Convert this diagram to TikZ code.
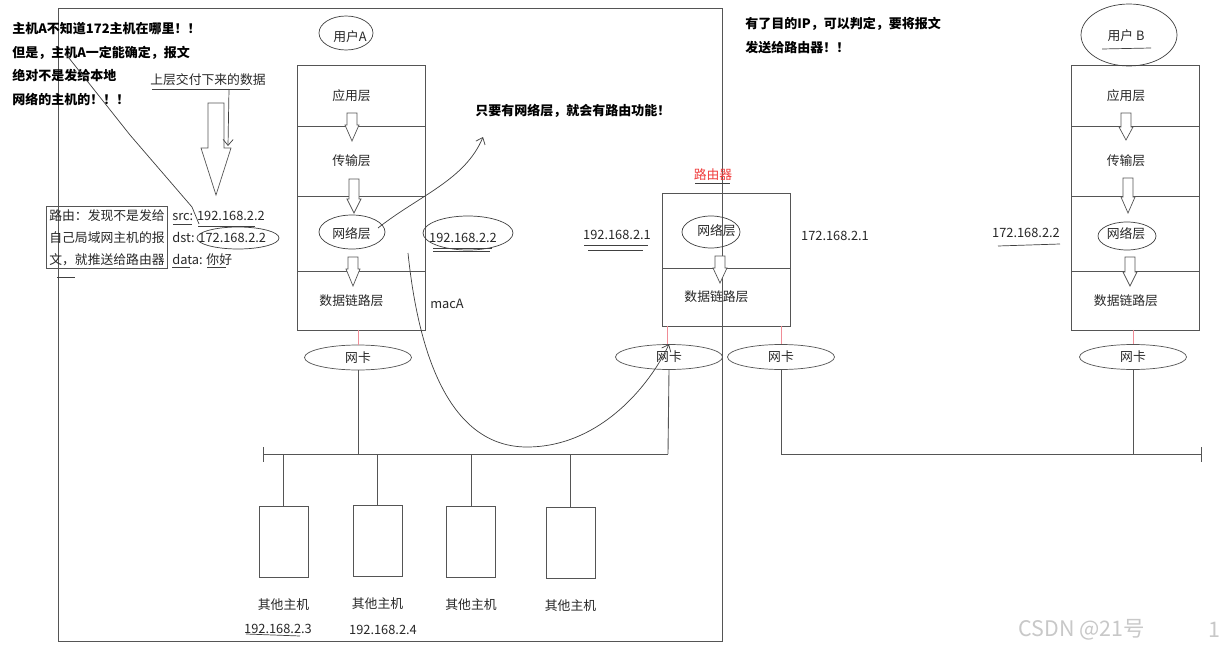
\documentclass[tikz,border=0pt]{standalone}
\usepackage{fontspec}
\setmainfont{Noto Sans CJK SC}
\usetikzlibrary{arrows.meta,positioning,shapes.geometric}
\definecolor{corLinha}{RGB}{85,85,85}
\definecolor{corTexto}{RGB}{40,40,40}
\definecolor{corVermelho}{RGB}{240,60,60}
\definecolor{corRosa}{RGB}{240,140,150}
\definecolor{corMarca}{RGB}{200,200,200}

% seta oca: x, topo, pescoco, ponta, meia largura haste, meia largura cabeca
\newcommand{\setaoca}[6]{%
  \draw[corLinha, fill=white] ({#1-#5},#2) -- ({#1+#5},#2) -- ({#1+#5},#3) -- ({#1+#6},#3)
    -- (#1,#4) -- ({#1-#6},#3) -- ({#1-#5},#3) -- cycle;}

\begin{document}
\begin{tikzpicture}[x=0.02cm, y=-0.02cm, node distance=0pt,
  every node/.style={font=\fontsize{7.3}{9}\selectfont, text=corTexto},
  camada/.style={rectangle, draw=corLinha, minimum width=2.56cm, inner sep=0pt, outer sep=0pt},
  rotulo/.style={label={[xshift=-0.19cm]center:#1}},
  placa/.style={ellipse, draw=corLinha, minimum width=2.14cm, minimum height=0.5cm, inner sep=0pt},
  maquina/.style={rectangle, draw=corLinha, minimum width=0.98cm, minimum height=1.42cm, inner sep=0pt},
  aviso/.style={font=\fontsize{7.4}{13.4}\selectfont\bfseries, text=black, align=left, inner sep=0pt, anchor=north west},
  fio/.style={draw=corLinha, line width=0.5pt},
  fioRosa/.style={draw=corRosa, line width=0.5pt},
  traco/.style={draw=black!75, line width=0.4pt},
  seta/.style={traco, -{Straight Barb[length=1.2mm, width=2mm]}}
]
  \useasboundingbox (0,0) rectangle (1225,649);
  \fill[white] (0,0) rectangle (1225,649);
  \draw[fio] (58,8) rectangle (722,641);

  % pilha do usuario A
  \node (userA) at (350,37) {用户A};
  \node[camada, minimum height=1.22cm, rotulo=应用层] (aApp) at (361,95.5) {};
  \node[camada, minimum height=1.40cm, below=of aApp, rotulo=传输层] (aTrans) {};
  \node[camada, minimum height=1.50cm, below=of aTrans, rotulo=网络层] (aRede) {};
  \node[camada, minimum height=1.18cm, below=of aRede, rotulo=数据链路层] (aEnlace) {};
  \setaoca{352}{113}{125}{141}{5}{7}
  \setaoca{354}{179}{199}{213}{5}{7}
  \setaoca{353}{257}{269}{286}{5}{7}
  \node (ipA) at (463,238) {192.168.2.2};
  \node (macA) at (447,304) {macA};

  % roteador
  \node[text=corVermelho] (roteador) at (713,175) {路由器};
  \node[camada, minimum height=1.50cm, rotulo=网络层] (rRede) at (726,230.5) {};
  \node[camada, minimum height=1.16cm, below=of rRede, rotulo=数据链路层] (rEnlace) {};
  \setaoca{720}{256}{268}{283}{5}{7}
  \node (ipR1) at (617,235) {192.168.2.1};
  \node (ipR2) at (835,236) {172.168.2.1};

  % pilha do usuario B
  \node (userB) at (1126,36) {用户 B};
  \node[camada, minimum height=1.22cm, rotulo=应用层] (bApp) at (1135.5,95.5) {};
  \node[camada, minimum height=1.40cm, below=of bApp, rotulo=传输层] (bTrans) {};
  \node[camada, minimum height=1.50cm, below=of bTrans, rotulo=网络层] (bRede) {};
  \node[camada, minimum height=1.18cm, below=of bRede, rotulo=数据链路层] (bEnlace) {};
  \setaoca{1126}{113}{127}{140}{5}{7}
  \setaoca{1128}{178}{197}{213}{5}{7}
  \setaoca{1130}{257}{272}{286}{5}{7}
  \node (ipB) at (1026,233) {172.168.2.2};

  % placas de rede
  \node[placa] (nicA) at (358,357.5) {网卡};
  \node[placa] (nicR1) at (669,357) {网卡};
  \node[placa] (nicR2) at (781,357) {网卡};
  \node[placa] (nicB) at (1133,357) {网卡};
  \draw[fioRosa] (aEnlace.south -| nicA) -- (nicA.north);
  \draw[fioRosa] (rEnlace.south -| 667,0) -- (nicR1.north -| 667,0);
  \draw[fioRosa] (rEnlace.south -| nicR2) -- (nicR2.north);
  \draw[fioRosa] (bEnlace.south -| nicB) -- (nicB.north);

  % barramentos
  \coordinate (busL) at (263,454);
  \coordinate (busR) at (668,454);
  \coordinate (busB) at (1201,454);
  \draw[fio] (busL) -- (busR);
  \draw[fio] ([yshift=0.14cm]busL) -- ([yshift=-0.16cm]busL);
  \draw[fio] ([yshift=0.14cm]busB) -- ([yshift=-0.16cm]busB);
  \draw[fio] (nicA.south) -- (nicA.south |- busL);
  \draw[fio] (nicR1.south) -- (busR);
  \draw[fio] (nicR2.south) |- (busB);
  \draw[fio] (nicB.south) -- (nicB.south |- busB);

  % outros hosts
  \node[maquina] (h1) at (283.5,541.5) {};
  \node[maquina] (h2) at (377.5,540.5) {};
  \node[maquina] (h3) at (471,542) {};
  \node[maquina] (h4) at (570.5,542.5) {};
  \foreach \h in {h1,h2,h3,h4} {
    \draw[fio] (\h.north) -- (\h.north |- busL);
    \node[below=0.3cm of \h] (\h t) {其他主机};
  }
  \node (ip3) at (278,629) {192.168.2.3};
  \node (ip4) at (383,630) {192.168.2.4};

  % textos
  \node[aviso] (avisoA) at (12,22) {主机A不知道172主机在哪里！！\\但是，主机A一定能确定，报文\\绝对不是发给本地\\网络的主机的！！！};
  \node[aviso] (avisoIP) at (745,17) {有了目的IP，可以判定，要将报文\\发送给路由器！！};
  \node[aviso] (avisoRota) at (475,104) {只要有网络层，就会有路由功能！};
  \node (dadosSup) at (208,80) {上层交付下来的数据};
  \node[draw=corLinha, align=left, font=\fontsize{7.3}{12.5}\selectfont, minimum width=2.4cm,
        minimum height=1.22cm, inner sep=1.5pt] (rota) at (107,237.5)
        {路由：发现不是发给\\自己局域网主机的报\\文，就推送给路由器};
  \node[align=left, font=\fontsize{7.3}{12.5}\selectfont, anchor=west, inner sep=0pt] (pacote) at (172,238)
        {src: 192.168.2.2\\dst: 172.168.2.2\\data: 你好};
  \node[text=corMarca, font=\fontsize{12.2}{14}\selectfont] (marca) at (1082,630) {CSDN @21号};
  \node[text=corMarca, font=\fontsize{12.2}{14}\selectfont] (pagina) at (1214,630) {1};

  \setaoca{216}{103}{148}{195}{8}{15}

  % marcas a mao
  \coordinate (mEsq) at (65,53);
  \coordinate (mDst) at (199,224);
  \coordinate (mRede) at (378,228);
  \coordinate (mRota) at (483,137);
  \coordinate (mMac) at (408,253);
  \coordinate (mDados) at (229,89);
  \coordinate (mDadosFim) at (228,146);
  \draw[seta] (mDados) -- (mDadosFim);
  \draw[traco] (mEsq) -- (130,135) -- (192,207) -- (mDst);
  \draw[seta] (mRede) .. controls (420,195) and (465,180) .. (mRota);
  \draw[seta] (mMac) .. controls (416,330) and (440,447) .. (527,447)
    .. controls (600,447) and (650,385) .. (nicR1.north);
  \draw[traco] (346,33) ellipse (0.54cm and 0.34cm);
  \draw[traco] (1129,35) ellipse (0.96cm and 0.62cm);
  \draw[traco] (352,232) ellipse (0.66cm and 0.34cm);
  \draw[traco] (711,232) ellipse (0.58cm and 0.32cm);
  \draw[traco] (1127,236) ellipse (0.58cm and 0.28cm);
  \draw[traco] (468,233) ellipse (0.9cm and 0.34cm);
  \draw[traco] (238,238) ellipse (0.82cm and 0.22cm);
  \draw[traco] (152,89) -- (250,89);
  \draw[traco] (1102,49) -- (1151,48);
  \draw[traco] (695,183) -- (730,183);
  \draw[traco] (584,245) -- (648,245);
  \draw[traco] (588,250) -- (643,250);
  \draw[traco] (998,246) -- (1060,244);
  \draw[traco] (433,248) -- (492,248);
  \draw[traco] (433,251) -- (490,251);
  \draw[traco] (173,224) -- (192,224);
  \draw[traco] (198,226) -- (255,226);
  \draw[traco] (172,267) -- (190,267);
  \draw[traco] (207,267) -- (226,267);
  \draw[traco] (57,277) -- (75,277);
  \draw[traco] (246,634) -- (300,636);
\end{tikzpicture}
\end{document}
